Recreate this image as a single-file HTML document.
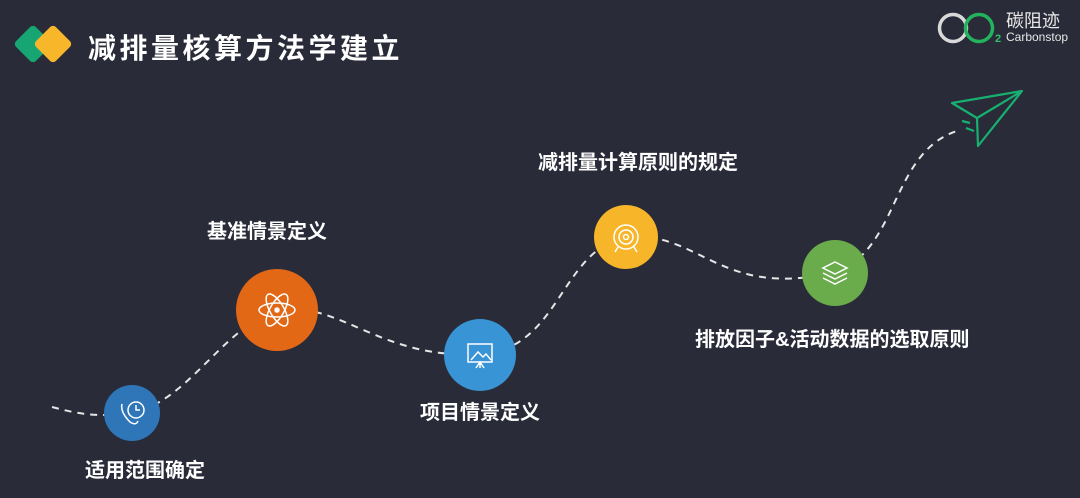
<!DOCTYPE html>
<html><head><meta charset="utf-8"><style>
body{margin:0;width:1080px;height:498px;background:#292b38;overflow:hidden;position:relative;font-family:"Liberation Sans","Noto Sans CJK SC",sans-serif;}
.t{position:absolute;color:#fff;font-weight:bold;white-space:nowrap;font-size:20px;line-height:1;}
</style></head><body>
<svg width="1080" height="498" style="position:absolute;left:0;top:0">
<g transform="translate(33,44) rotate(45)"><rect x="-14" y="-14" width="28" height="28" rx="4" fill="#17a673"/></g>
<g transform="translate(53,44) rotate(45)"><rect x="-14" y="-14" width="28" height="28" rx="4" fill="#f8b62a"/></g>
<path d="M52,407 C75,413 95,418 132,413 C190,400 220,330 277,310 C340,300 380,360 480,354 C560,350 560,250 626,237 C700,230 720,300 835,272 C900,250 890,150 960,130" fill="none" stroke="#e6e6e6" stroke-width="2" stroke-dasharray="7,6"/>
<circle cx="132" cy="413" r="28" fill="#2e76b8"/>
<circle cx="277" cy="310" r="41" fill="#e26816"/>
<circle cx="480" cy="355" r="36" fill="#3894d5"/>
<circle cx="626" cy="237" r="32" fill="#f7b52a"/>
<circle cx="835" cy="273" r="33" fill="#6aab4b"/>
<g fill="none" stroke="#fff" stroke-width="1.5">
<circle cx="136" cy="410" r="8"/><path d="M136,405 v5 h4"/><path d="M122,404 q-2,8 8,18 q6,4 8,-1"/>
<ellipse cx="277" cy="310" rx="18" ry="7"/><ellipse cx="277" cy="310" rx="18" ry="7" transform="rotate(60 277 310)"/><ellipse cx="277" cy="310" rx="18" ry="7" transform="rotate(-60 277 310)"/><circle cx="277" cy="310" r="2" fill="#fff"/>
<rect x="468" y="344" width="24" height="18"/><path d="M471,360 l7,-8 l5,5 l3,-3 l5,6 M480,362 v6 M476,368 l4,-6 l4,6"/>
<circle cx="626" cy="237" r="12"/><circle cx="626" cy="237" r="7"/><circle cx="626" cy="237" r="2.5"/><path d="M618,247 l-3,5 M634,247 l3,5"/>
<path d="M835,262 l12,6 l-12,6 l-12,-6 z M823,273 l12,6 l12,-6 M823,278 l12,6 l12,-6"/>
</g>
<g fill="none" stroke="#17b070" stroke-width="2.2" stroke-linejoin="round">
<path d="M952,103 L1022,91 L978,146 L977,118 Z M977,118 L1022,91"/>
<path d="M962,121 l8,2 M966,128 l8,3"/>
</g>
<circle cx="953" cy="28" r="13.5" fill="none" stroke="#d9d9d9" stroke-width="3.5"/>
<circle cx="979" cy="28" r="13.5" fill="none" stroke="#22b35c" stroke-width="3.5"/>
</svg>
<div class="t" style="left:88px;top:35px;font-size:28px;letter-spacing:3.5px">减排量核算方法学建立</div>
<div style="position:absolute;left:995px;top:33px;color:#2fbf6a;font-size:11px;font-weight:bold">2</div>
<div style="position:absolute;left:1006px;top:12px;color:#e8e8e8;font-size:18px;line-height:1">碳阻迹</div>
<div style="position:absolute;left:1006px;top:31px;color:#e8e8e8;font-size:12px;line-height:1">Carbonstop</div>
<div class="t" style="left:85px;top:461px">适用范围确定</div>
<div class="t" style="left:207px;top:222px">基准情景定义</div>
<div class="t" style="left:420px;top:403px">项目情景定义</div>
<div class="t" style="left:538px;top:153px">减排量计算原则的规定</div>
<div class="t" style="left:695px;top:330px">排放因子&amp;活动数据的选取原则</div>
</body></html>
